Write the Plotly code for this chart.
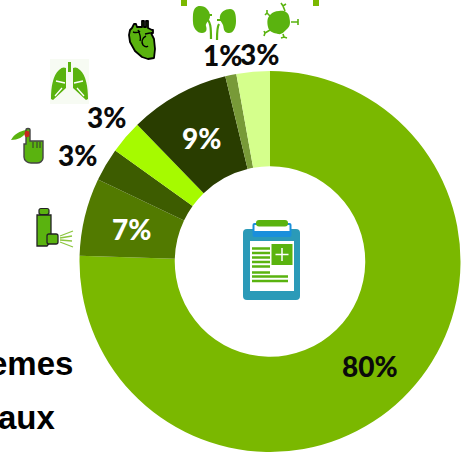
import base64
import plotly.graph_objects as go

categories = ["Autres", "Asthme", "Diabète", "Poumon", "Cœur", "Rein", "Immunité"]
values = [80, 7, 3, 3, 9, 1, 3]
labels = ["80%", "7%", "3%", "3%", "9%", "1%", "3%"]
colors = ["#7AB800", "#527A00", "#3D5C00", "#A6FA00", "#293D00", "#789A38", "#D5FF8C"]
label_colors = ["#0A0A0A", "#FFFFFF", "#0A0A0A", "#0A0A0A", "#FFFFFF", "#0A0A0A", "#0A0A0A"]
label_px = [370, 131, 77, 106, 201, 222, 259]
label_py = [366, 229, 155, 117, 138, 55, 54]

W, H = 461, 452
G = "#5AB30F"
svg = f'''<svg xmlns="http://www.w3.org/2000/svg" width="{W}" height="{H}" viewBox="0 0 {W} {H}">
<rect x="181" y="0" width="6" height="6" fill="#7AB800"/><rect x="313" y="0" width="6" height="6" fill="#7AB800"/>
<!-- clipboard -->
<rect x="243" y="229" width="57" height="71" rx="4" fill="#2B9AB8"/>
<rect x="252.500" y="223" width="39" height="14" rx="2" fill="#1A8FDB"/>
<rect x="254.500" y="225" width="35" height="6" fill="#fff"/>
<rect x="256" y="220" width="32" height="6.500" rx="3" fill="{G}"/>
<rect x="250" y="241" width="44" height="50" fill="#fff"/>
<rect x="271.500" y="244" width="21" height="21" fill="{G}"/>
<path d="M282 248v13M275.500 254.500h13" stroke="#fff" stroke-width="1.500"/>
<path d="M252 248.500h18M252 253h18M252 257.500h18M252 262h18M252 266.500h18M252 272.500h18M252 276.500h36M252 281h36" stroke="{G}" stroke-width="2.600"/>
<!-- kidneys -->
<path d="M200 6c6 0 10 5 10 10s-5 7-4 10 1 7-4 7-9-5-9-11-1-16 7-16z" fill="{G}"/>
<path d="M230 9c5 0 6 5 6 12s-3 13-8 12-4-5-5-8-4-5-3-9 5-7 10-7z" fill="{G}"/>
<path d="M207 15h5M208 20c2 3 3 5 3 19M222 20h-5M219 24c-2 3-2 8-2 16" stroke="{G}" stroke-width="2.200" fill="none"/>
<!-- virus -->
<path d="M279 11c5-1 9 1 10 5s2 9-1 12-6 7-10 6-9-2-10-7-1-9 2-12 5-4 9-4z" fill="{G}"/>
<g stroke="{G}" stroke-width="1.600" fill="none">
<path d="M283 6l2 5M281 3l2 3 3-2"/><path d="M270 16l-3-3M265 15l2-2 0-3"/><path d="M291 22l7 0M298 19v6"/>
<path d="M270 30l-5 3M264 31l1 2-1 3"/><path d="M283 34l1 3M281 38l3-1 3 1"/>
</g>
<!-- heart -->
<path d="M134 24l2 0 1 3h5v-6h2v6h2v-6h2v7l4 2h1v3h-2l3 6 1 10-1 9-6 1-6-2-7-6-5-9-1-7 1-5 2-2z" fill="{G}" stroke="#000" stroke-width="1.800" stroke-linejoin="round"/>
<path d="M138 30c2 4 3 8 2 11M146 36c-4 2-5 6-3 9 2 2 4 2 5 1M133 32c3 1 5 1 7-1M150 33l-5 1" stroke="#000" stroke-width="1.400" fill="none"/>
<!-- lungs -->
<rect x="50" y="59" width="39" height="45" fill="#F7FBF3"/>
<path d="M68 62h3v10h-3z" fill="{G}"/>
<path d="M66 68v20l-13 12-2-1c0-12 2-24 8-29 3-3 5-3 7-2z" fill="{G}"/>
<path d="M73 68v20l13 12 2-1c0-12-2-24-8-29-3-3-5-3-7-2z" fill="{G}"/>
<path d="M56 81l9 2M83 81l-9 2M55 96l7-8M84 96l-7-8" stroke="#fff" stroke-width="1.300"/>
<!-- finger -->
<path d="M11 140c3-6 9-9 15-10l1 2c-4 5-9 8-16 8z" fill="{G}"/>
<path d="M26 130c0-2 4-2 4 0v11h13v17c0 3-3 5-6 5h-6c-3 0-7-2-7-6v-13h2z" fill="{G}" stroke="#444" stroke-width="1.400"/>
<path d="M33 142v6M37 142v6M40 142v6" stroke="#333" stroke-width="1"/>
<ellipse cx="27" cy="134" rx="2.500" ry="3.200" fill="#C8281E"/>
<!-- inhaler -->
<rect x="39" y="208.500" width="10" height="6" rx="2" fill="{G}" stroke="#222" stroke-width="1.200"/>
<path d="M37 215h14v26l-4 5h-10z" fill="{G}" stroke="#222" stroke-width="1.300"/>
<rect x="47" y="234" width="11" height="10" rx="2" fill="{G}" stroke="#222" stroke-width="1.300"/>
<path d="M60 236l13-5M60 238l12-2M60 240l12 1M60 242l13 5" stroke="#8CC63F" stroke-width="1.300"/>
</svg>'''
icon_uri = "data:image/svg+xml;base64," + base64.b64encode(svg.encode()).decode()

fig = go.Figure(go.Pie(
    labels=categories, values=values, sort=False, direction="clockwise", rotation=0,
    hole=0.5, textinfo="none", marker=dict(colors=colors, line=dict(width=0)),
    domain=dict(x=[79 / W, 1], y=[0, 381 / H]), showlegend=False,
))

annotations = [
    dict(text=t, x=px / W, y=1 - py / H, xref="paper", yref="paper", showarrow=False,
         xanchor="center", yanchor="middle",
         font=dict(family="Lato", size=28, color=c, weight=900))
    for t, px, py, c in zip(labels, label_px, label_py, label_colors)
]
for t, py, right in [("emes", 363, 72), ("aux", 417, 55)]:
    annotations.append(dict(text=t, x=right / W, y=1 - py / H, xref="paper", yref="paper", showarrow=False,
                            xanchor="right", yanchor="middle", xshift=3,
                            font=dict(family="Liberation Sans", size=33, color="#000000", weight="bold")))

fig.update_layout(
    width=W, height=H, margin=dict(l=0, r=0, t=0, b=0), autosize=False,
    paper_bgcolor="white", plot_bgcolor="white", annotations=annotations,
    images=[dict(source=icon_uri, xref="paper", yref="paper", x=0, y=1, sizex=1, sizey=1,
                 sizing="stretch", xanchor="left", yanchor="top", layer="above")],
)
fig.write_html("out.html", config=dict(displayModeBar=False),
               post_script="document.documentElement.style.overflow='hidden';document.body.style.margin='0';")
